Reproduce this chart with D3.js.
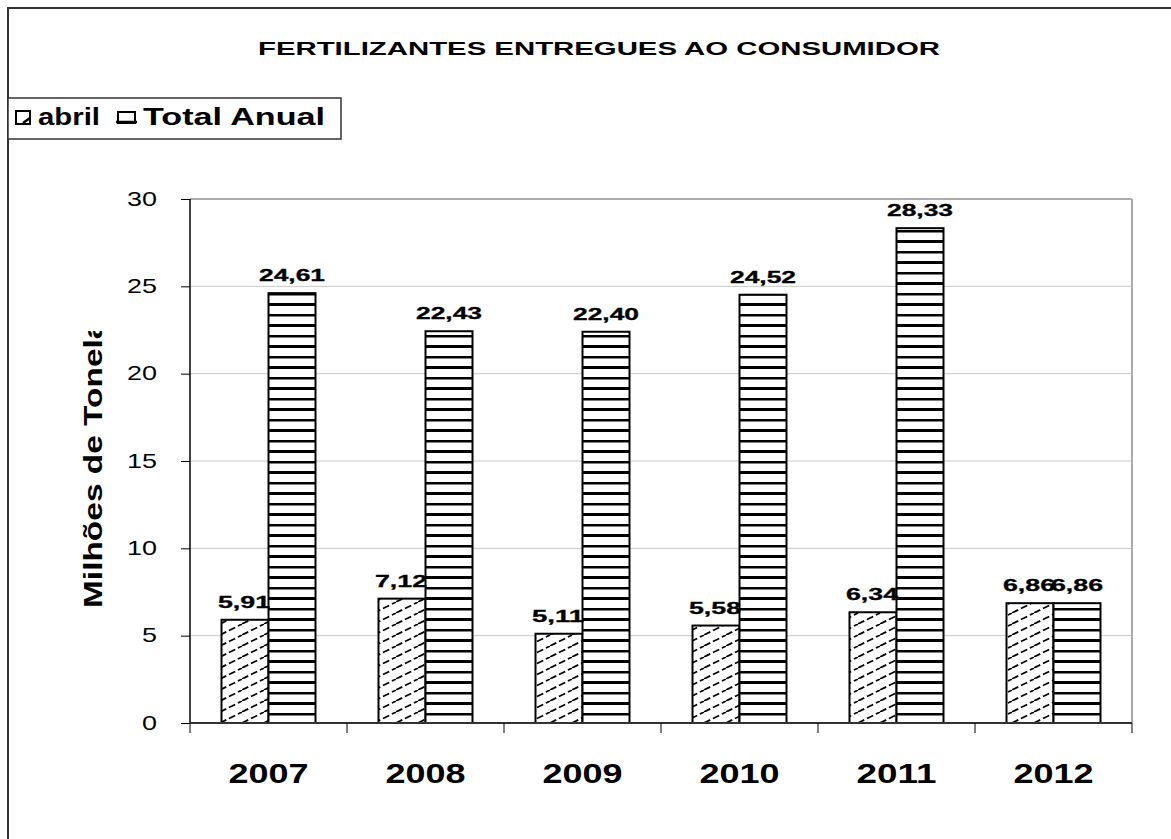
<!DOCTYPE html>
<html><head><meta charset="utf-8">
<script src="https://cdn.jsdelivr.net/npm/d3@7"></script>
<style>body{margin:0;background:#fff}svg{display:block;font-family:"Liberation Sans",Arial,sans-serif}</style>
</head><body><svg id="c" width="1171" height="839"></svg>
<script>
const categories = ["2007","2008","2009","2010","2011","2012"];
const seriesNames = ["abril","Total Anual"];
const abril = [5.91,7.12,5.11,5.58,6.34,6.86];
const totalAnual = [24.61,22.43,22.40,24.52,28.33,6.86];
const yTicks = [0,5,10,15,20,25,30];
const title = "FERTILIZANTES ENTREGUES AO CONSUMIDOR";
const yTitle = "Milhões de Toneladas";

const svg = d3.select("#c");
const defs = svg.append("defs");
// diagonal dashed hatch
const p1 = defs.append("pattern").attr("id","hatch").attr("patternUnits","userSpaceOnUse")
  .attr("width",22).attr("height",11).attr("x",0).attr("y",723);
p1.append("rect").attr("width",22).attr("height",11).attr("fill","#fff");
p1.append("path").attr("d","M0,11 L22,0 M-22,11 L0,0 M22,11 L44,0").attr("stroke","#000")
  .attr("stroke-width",1.7).attr("stroke-dasharray","7,3");
// horizontal lines
const p2 = defs.append("pattern").attr("id","hlines").attr("patternUnits","userSpaceOnUse")
  .attr("width",10).attr("height",21).attr("y",723);
p2.append("rect").attr("width",10).attr("height",21).attr("fill","#fff");
p2.append("rect").attr("y",0).attr("width",10).attr("height",3).attr("fill","#000");
p2.append("rect").attr("y",11).attr("width",10).attr("height",2.5).attr("fill","#000");
defs.append("clipPath").attr("id","ytclip").append("rect").attr("x",60).attr("y",331).attr("width",80).attr("height",400);

// outer frame
svg.append("rect").attr("x",8).attr("y",8).attr("width",1200).attr("height",900)
  .attr("fill","none").attr("stroke","#333").attr("stroke-width",2);

const L=190, R=1132, T=199, B=723;
const x = d3.scaleBand().domain(categories).range([L,R]);
const y = d3.scaleLinear().domain([0,30]).range([B,T]);
const barW = 47;
const fmt = v => d3.format(".2f")(v).replace(".",",");

// gridlines
svg.append("g").selectAll("line").data(yTicks.filter(d=>d>0)).join("line")
  .attr("x1",L).attr("x2",R).attr("y1",d=>y(d)).attr("y2",d=>y(d))
  .attr("stroke","#c8c8c8").attr("stroke-width",1);
svg.append("line").attr("x1",L).attr("x2",R).attr("y1",T).attr("y2",T).attr("stroke","#999").attr("stroke-width",1.5);
svg.append("line").attr("x1",R).attr("x2",R).attr("y1",T).attr("y2",B).attr("stroke","#aaa").attr("stroke-width",2);

// bars
const g = svg.append("g");
categories.forEach((c,i)=>{
  const cx = x(c)+x.bandwidth()/2;
  g.append("rect").attr("x",cx-barW).attr("y",y(abril[i])).attr("width",barW).attr("height",B-y(abril[i]))
    .attr("fill","url(#hatch)").attr("stroke","#000").attr("stroke-width",2);
  g.append("rect").attr("x",cx).attr("y",y(totalAnual[i])).attr("width",barW).attr("height",B-y(totalAnual[i]))
    .attr("fill","url(#hlines)").attr("stroke","#000").attr("stroke-width",2);
  [[abril[i],cx-barW/2-1],[totalAnual[i],cx+barW/2]].forEach(([v,lx])=>{
    const s = fmt(v), w = (s.length-1)*14+10;
    g.append("text").attr("x",lx-w/2).attr("y",y(v)-12).attr("font-size",16).attr("font-weight","bold")
      .attr("textLength",w).attr("lengthAdjust","spacingAndGlyphs").attr("stroke","#000").attr("stroke-width",0.3)
      .text(s);
  });
});

// y axis
const ya = svg.append("g").attr("transform",`translate(${L},0)`)
  .call(d3.axisLeft(y).tickValues(yTicks).tickSize(9).tickPadding(24));
ya.select(".domain").attr("stroke","#000").attr("stroke-width",1.5).attr("d",`M0,${T}V${B}`);
ya.selectAll(".tick line").attr("stroke","#000");
ya.selectAll("text").attr("font-size",21).attr("font-family","Liberation Sans, Arial").attr("fill","#000")
  .attr("dy","0.3em")
  .attr("textLength",d=>String(d).length*15).attr("lengthAdjust","spacingAndGlyphs");

// x axis
const xa = svg.append("g").attr("transform",`translate(0,${B})`)
  .call(d3.axisBottom(x).tickSize(0).tickPadding(0));
xa.select(".domain").attr("stroke","#333").attr("stroke-width",2).attr("d",`M${L},0H${R}`);
xa.selectAll("text").attr("font-size",28).attr("font-weight","bold").attr("font-family","Liberation Sans, Arial").attr("fill","#000")
  .attr("dy",null).attr("y",60).attr("x",-40).attr("text-anchor","start")
  .attr("textLength",80).attr("lengthAdjust","spacingAndGlyphs");
svg.append("g").selectAll("line").data(d3.range(categories.length+1)).join("line")
  .attr("x1",d=>L+d*x.step()).attr("x2",d=>L+d*x.step()).attr("y1",B).attr("y2",B+10)
  .attr("stroke","#000").attr("stroke-width",1);

// y title
svg.append("g").attr("clip-path","url(#ytclip)").append("text")
  .attr("transform","translate(102,608) rotate(-90)").attr("font-size",26).attr("font-weight","bold")
  .attr("textLength",345).attr("lengthAdjust","spacingAndGlyphs")
  .text(yTitle);

// title
svg.append("text").attr("x",258).attr("y",55).attr("font-size",19).attr("font-weight","bold")
  .attr("textLength",682).attr("lengthAdjust","spacingAndGlyphs").text(title);

// legend
const lg = svg.append("g");
lg.append("rect").attr("x",8).attr("y",98).attr("width",333).attr("height",41).attr("fill","#fff").attr("stroke","#333").attr("stroke-width",1.5);
lg.append("rect").attr("x",16).attr("y",111).attr("width",14).attr("height",13).attr("fill","#fff").attr("stroke","#000").attr("stroke-width",2);
lg.append("path").attr("d","M23,123 L30,118").attr("stroke","#000").attr("stroke-width",2.5);
lg.append("text").attr("x",38).attr("y",125).attr("font-size",23).attr("font-weight","bold")
  .attr("textLength",62).attr("lengthAdjust","spacingAndGlyphs").text(seriesNames[0]);
lg.append("rect").attr("x",118).attr("y",112).attr("width",17).attr("height",11).attr("fill","#fff").attr("stroke","#000").attr("stroke-width",2);
lg.append("line").attr("x1",116).attr("x2",137).attr("y1",122).attr("y2",122).attr("stroke","#000").attr("stroke-width",2.5);
lg.append("text").attr("x",143).attr("y",125).attr("font-size",23).attr("font-weight","bold")
  .attr("textLength",182).attr("lengthAdjust","spacingAndGlyphs").text(seriesNames[1]);
</script></body></html>
